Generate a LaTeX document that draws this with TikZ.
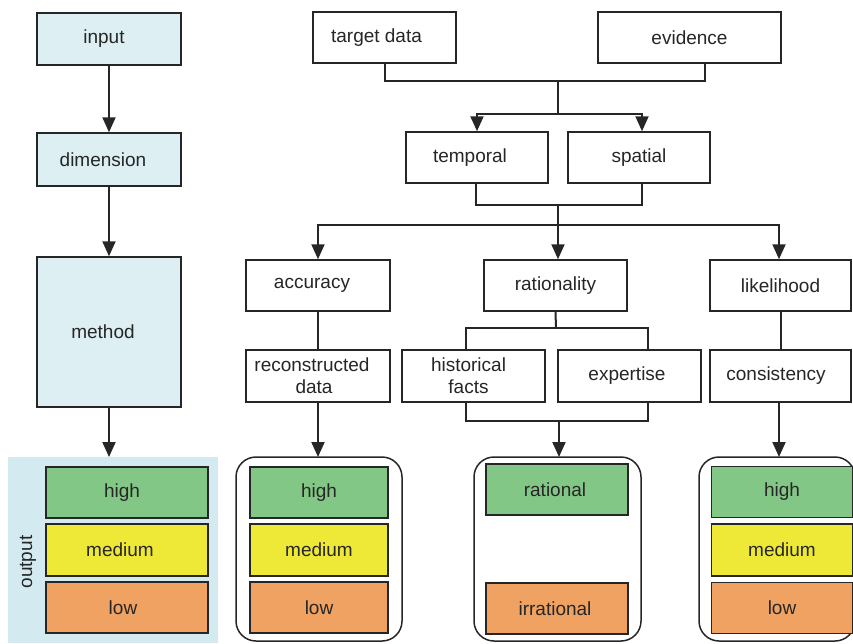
\documentclass[tikz,border=0pt]{standalone}
\usepackage{fontspec}
\setmainfont{Liberation Sans}
\usetikzlibrary{arrows.meta,calc}
\definecolor{boxblue}{HTML}{DDEFF3}
\definecolor{panelblue}{HTML}{D2EAF0}
\definecolor{lvlgreen}{HTML}{83C786}
\definecolor{lvlyellow}{HTML}{EEE937}
\definecolor{lvlorange}{HTML}{EFA262}
\definecolor{ink}{HTML}{262626}
% move a label left inside a fixed-size box (by half the given length)
\newcommand{\lft}[2]{\hspace*{-#1}#2}
\tikzset{
  base/.style={draw=ink, line width=1.5pt, text=ink, font=\fontsize{19}{22}\selectfont,
    inner sep=0pt, align=center},
  bluebox/.style={base, fill=boxblue, minimum width=144pt},
  plainbox/.style={base, fill=white, minimum height=51pt},
  level/.style={base, minimum height=51pt},
  group/.style={draw=ink, line width=1.5pt, rounded corners=20pt},
  link/.style={draw=ink, line width=2pt},
  arrow/.style={link, -{Triangle[width=13pt,length=15pt]}}
}
\begin{document}
\begin{tikzpicture}[x=1pt,y=-1pt]
\useasboundingbox (0,0) rectangle (853,643);

% left column: generic pipeline
\node[bluebox, minimum height=52pt] (input) at (109,39) {\lft{10pt}{input}};
\node[bluebox, minimum height=53pt] (dim) at (109,159.5) {\lft{12pt}{dimension}};
\node[bluebox, minimum height=150pt] (method) at (109,332) {\lft{12pt}{method}};
\fill[panelblue] (8,457) rectangle (218,643);
\coordinate (panel) at (109,457);
\node[level, fill=lvlgreen,  minimum width=162pt] (lhigh) at (127,492.5) {\lft{10pt}{high}};
\node[level, fill=lvlyellow, minimum width=162pt, minimum height=52pt] (lmed) at (127,550) {\lft{14pt}{medium}};
\node[level, fill=lvlorange, minimum width=162pt] (llow) at (127,607.5) {\lft{8pt}{low}};
\node[text=ink, font=\fontsize{19}{22}\selectfont, rotate=90] (outlbl) at (28,562) {output};
\draw[arrow] (input) -- (dim);
\draw[arrow] (dim) -- (method);
\draw[arrow] (method) -- (panel);

% top: data sources and the two dimensions
\node[plainbox, minimum width=143pt] (target) at (384.5,37.5) {\lft{16pt}{target data}};
\node[plainbox, minimum width=183pt] (evid) at (689.5,37.5) {evidence};
\node[plainbox, minimum width=142pt] (temp) at (477,157.5) {\lft{14pt}{temporal}};
\node[plainbox, minimum width=142pt] (spat) at (639,157.5) {spatial};
\coordinate (j1) at (558,81);
\coordinate (j2) at (558,114);
\draw[link] (target.south) |- (j1) -| ($(evid.south)+(15,0)$);
\draw[link] (j1) -- (j2);
\draw[arrow] (j2) -| (temp.north);
\draw[arrow] (j2) -| ($(spat.north)+(3,0)$);

% criteria
\node[plainbox, minimum width=144pt] (acc) at (318,285.5) {\lft{12pt}{accuracy}};
\node[plainbox, minimum width=143pt] (rat) at (555.5,285.5) {rationality};
\node[plainbox, minimum width=141pt] (lik) at (780.5,285.5) {likelihood};
\coordinate (j3) at (558,205);
\coordinate (j4) at (558,225);
\draw[link] ($(temp.south)+(-1,0)$) |- (j3) -| ($(spat.south)+(3,0)$);
\draw[link] (j3) -- (j4);
\draw[arrow] (j4) -| (acc.north);
\draw[arrow] (j4) -- ($(rat.north)+(2.5,0)$);
\draw[arrow] (j4) -| ($(lik.north)+(-1.5,0)$);

% evidence used by each criterion
\node[plainbox, minimum width=144pt, minimum height=52pt] (recon) at (318,376) {\lft{12pt}{reconstructed}\\\lft{8pt}{data}};
\node[plainbox, minimum width=143pt, minimum height=52pt] (hist) at (473.5,376) {\lft{10pt}{historical}\\\lft{10pt}{facts}};
\node[plainbox, minimum width=143pt, minimum height=52pt] (expt) at (629.5,376) {\lft{5pt}{expertise}};
\node[plainbox, minimum width=141pt, minimum height=52pt] (cons) at (780.5,376) {\lft{9pt}{consistency}};
\draw[link] (acc) -- (recon);
\draw[link] (lik.south) -- (cons.north);
\coordinate (j5) at (556,328);
\draw[link] (rat.south) -- (j5);
\draw[link] ($(hist.north)+(-7.5,0)$) |- (j5) -| ($(expt.north)+(18.5,0)$);
\coordinate (j6) at (559,421);
\draw[link] ($(hist.south)+(-7.5,0)$) |- (j6) -| ($(expt.south)+(18.5,0)$);

% result scales
\draw[group] (236,457) rectangle (402,641);
\draw[group] (474,457) rectangle (641,641);
\draw[group] (699,457) rectangle (855,641);
\coordinate (g1) at (318,457);
\coordinate (g2) at (559,457);
\coordinate (g3) at (779,457);
\draw[arrow] (recon) -- (g1);
\draw[arrow] (j6) -- (g2);
\draw[arrow] ($(cons.south)+(-1.5,0)$) -- (g3);

\node[level, fill=lvlgreen,  minimum width=138pt] (ahigh) at (319,492.5) {high};
\node[level, fill=lvlyellow, minimum width=138pt, minimum height=52pt] (amed) at (319,550) {medium};
\node[level, fill=lvlorange, minimum width=138pt] (alow) at (319,607.5) {low};

\node[level, fill=lvlgreen,  minimum width=142pt] (rrat) at (557,489.5) {\lft{4pt}{rational}};
\node[level, fill=lvlorange, minimum width=142pt] (rirr) at (557,608.5) {\lft{4pt}{irrational}};

\node[level, fill=lvlgreen,  minimum width=141pt] (khigh) at (782,492) {high};
\node[level, fill=lvlyellow, minimum width=141pt, minimum height=52pt] (kmed) at (782,550) {medium};
\node[level, fill=lvlorange, minimum width=141pt] (klow) at (782,608) {low};
\end{tikzpicture}
\end{document}
